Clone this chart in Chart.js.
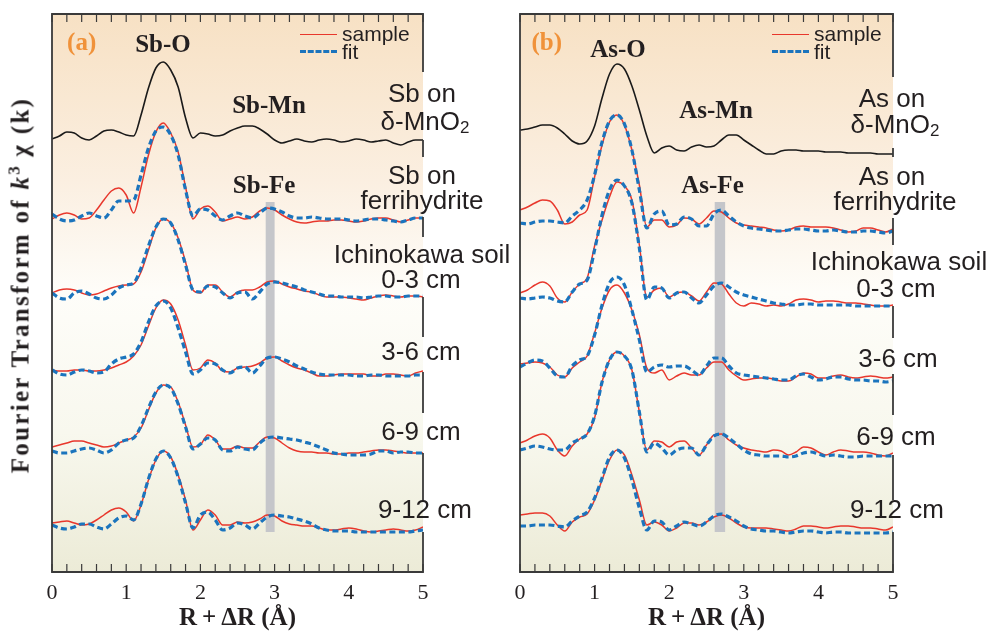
<!DOCTYPE html>
<html><head><meta charset="utf-8">
<script src="https://cdn.jsdelivr.net/npm/chart.js@4.4.0/dist/chart.umd.min.js"></script>
<style>
html,body{margin:0;padding:0;background:#fff;}
#wrap{position:relative;width:991px;height:633px;overflow:hidden;}
canvas{position:absolute;left:0;top:0;}
.t{position:absolute;white-space:nowrap;line-height:1;color:#231f20;}
.sans{font-family:"Liberation Sans",Arial,sans-serif;font-size:26px;}
.leg{font-family:"Liberation Sans",Arial,sans-serif;font-size:21px;}
.bond{font-family:"Liberation Serif","Times New Roman",serif;font-weight:bold;font-size:25px;}
.pl{font-family:"Liberation Serif","Times New Roman",serif;font-weight:bold;font-size:25px;color:#f0923a;}
sub,sup{line-height:0;}
.ln{position:absolute;height:0;}
</style></head>
<body><div id="wrap">
<canvas id="ca" width="991" height="633"></canvas>
<canvas id="cb" width="991" height="633"></canvas>
<div id="ov"></div>
</div>
<script>
// R + ΔR (Å) grid shared by all spectra
const R = [0,0.1,0.2,0.3,0.4,0.5,0.6,0.7,0.8,0.9,1,1.1,1.2,1.3,1.4,1.5,1.6,1.7,1.8,1.9,2,2.1,2.2,2.3,2.4,2.5,2.6,2.7,2.8,2.9,3,3.1,3.2,3.3,3.4,3.5,3.6,3.7,3.8,3.9,4,4.1,4.2,4.3,4.4,4.5,4.6,4.7,4.8,4.9,5];
const xTicks = [0,1,2,3,4,5];

// (a) Sb — stacked |FT| (offset a.u.)
const sbMnO2      = [433,436,440,439,434,432,436,441,442,440,437,436,457,484,504,510,502,485,454,434,439,438,436,437,441,444,446,446,443,438,432,429,431,433,431,430,432,433,432,430,431,433,432,430,431,432,429,427,430,432,432];
const sbFhSample  = [353,357,359,357,353,354,362,372,381,384,377,359,385,417,440,449,439,420,385,353,363,366,360,351,353,355,353,355,361,364,362,357,353,350,349,350,351,351,352,352,351,350,351,353,354,354,352,350,352,354,354];
const sbFhFit     = [358,353,351,352,356,359,356,354,362,371,371,372,397,424,441,445,437,417,382,356,363,362,356,352,356,359,356,354,359,364,363,360,356,354,354,355,354,353,353,353,352,351,352,353,353,352,351,350,352,354,354];
const sb03Sample  = [279,282,283,282,279,277,278,281,284,286,287,288,300,322,344,353,349,334,310,282,279,287,287,280,275,280,282,282,285,290,291,288,285,283,281,280,277,275,275,275,274,273,272,274,276,277,276,275,276,276,275];
const sb03Fit     = [279,274,273,279,281,278,274,273,277,284,287,289,304,326,345,353,349,332,307,282,280,286,285,279,274,279,280,273,280,288,290,289,287,285,282,280,278,276,276,275,275,275,274,275,276,276,275,275,276,276,276];
const sb36Sample  = [202,201,201,202,202,201,201,202,204,207,210,216,227,246,264,272,268,252,227,202,204,212,209,201,200,204,205,206,209,214,215,211,207,204,202,199,196,196,197,198,198,198,198,196,196,198,198,197,196,199,201];
const sb36Fit     = [202,198,197,200,202,201,199,200,208,213,215,218,230,250,266,271,264,244,220,198,202,209,208,202,199,204,205,199,206,214,215,213,210,206,203,200,198,197,197,197,197,196,196,197,197,196,196,196,196,197,197];
const sb69Sample  = [125,127,129,131,131,129,127,125,126,129,132,135,144,162,179,187,185,170,147,125,127,137,132,123,123,126,124,124,130,135,134,129,124,121,120,120,119,119,118,118,119,119,120,121,122,122,121,120,119,119,119];
const sb69Fit     = [121,119,119,121,123,124,122,119,122,129,132,134,146,164,180,187,184,168,145,123,128,134,132,122,121,125,123,122,129,134,135,134,133,132,130,128,125,122,119,118,117,117,117,118,121,121,119,120,120,119,119];
const sb912Sample = [49,50,51,49,47,48,52,57,62,64,60,51,67,92,112,121,115,97,72,42,52,62,57,47,47,50,49,50,53,57,56,51,48,47,46,46,44,42,42,43,44,43,41,40,41,42,43,42,41,42,45];
const sb912Fit    = [47,44,43,45,48,48,45,43,48,54,56,52,68,93,113,121,114,95,69,44,57,60,52,42,44,49,47,43,49,55,57,56,55,53,51,48,44,42,41,41,41,40,40,40,40,40,40,40,40,41,42];

// (b) As
const asMnO2      = [442,443,445,447,447,444,438,431,428,431,446,474,498,508,503,486,462,436,419,424,426,422,421,425,427,425,426,432,437,437,432,427,422,418,418,421,422,422,421,421,421,420,420,420,419,419,419,419,418,418,418];
const asFhSample  = [362,365,369,372,371,362,348,350,357,362,395,427,450,457,447,422,387,345,352,352,345,347,354,353,348,354,361,360,354,349,347,346,345,344,342,341,342,345,346,345,345,345,344,342,340,341,344,344,342,340,343];
const asFhFit     = [349,348,350,351,351,350,349,356,362,372,397,430,451,457,448,422,382,344,358,361,347,348,355,353,346,346,358,362,356,350,346,344,343,342,341,341,342,343,343,342,341,341,342,341,340,340,341,341,340,339,341];
const as03Sample  = [279,282,287,290,286,274,270,280,288,294,326,352,375,390,386,372,327,275,282,284,275,279,280,276,271,280,289,288,278,269,266,269,268,266,267,266,268,272,273,272,270,271,271,270,269,269,268,267,266,266,267];
const as03Fit     = [274,273,274,275,274,271,270,280,288,292,322,357,382,392,386,369,324,272,285,284,274,279,280,274,269,277,286,289,285,280,277,275,273,271,269,268,267,267,268,268,267,267,267,267,267,266,266,266,266,266,266];
const as36Sample  = [208,209,210,209,205,197,195,204,210,216,239,264,282,287,279,262,237,204,199,202,192,196,199,197,197,204,210,210,202,196,192,193,194,194,193,191,191,195,199,198,194,194,196,197,195,194,195,196,195,194,195];
const as36Fit     = [205,209,212,211,204,196,195,206,212,216,237,267,289,295,287,262,232,200,205,207,205,206,206,202,197,206,214,214,206,199,197,196,195,194,193,192,192,196,198,195,192,193,195,195,193,192,192,191,191,190,191];
const as69Sample  = [129,132,136,138,134,122,116,126,133,138,154,190,212,220,216,202,160,122,131,130,125,130,131,124,117,127,137,138,132,127,124,122,121,120,122,121,117,120,125,124,120,117,120,122,121,120,120,119,117,116,119];
const as69Fit     = [122,124,126,125,123,122,122,129,133,138,156,190,212,220,216,202,160,120,129,124,117,122,124,124,117,127,136,138,134,128,122,118,117,116,116,116,115,116,119,120,118,116,117,116,115,115,116,116,116,116,116];
const as912Sample = [57,58,59,59,56,47,41,50,55,58,72,92,112,122,117,97,72,47,50,47,41,44,49,49,47,50,55,57,54,49,45,44,44,44,43,42,41,43,46,46,45,44,45,46,46,45,44,44,43,42,45];
const as912Fit    = [46,46,47,47,47,46,45,51,56,60,74,94,115,122,114,92,64,42,51,50,42,46,50,48,46,50,56,58,55,51,46,43,42,41,41,40,39,40,41,41,40,39,40,40,39,39,39,39,39,39,40];

// shaded M-Fe distance bands (R range) and their vertical extent (a.u.)
const bandSb = [2.88, 3.0];
const bandAs = [2.61, 2.75];
const bandSpan = [40, 370];

const RED = '#e8372c', BLUE = '#1b74bd', BLACK = '#1a1a1a';

function ds(vals, kind){
  const base = {data: vals.map((v,i)=>({x:R[i], y:v})), pointRadius:0, fill:false,
    cubicInterpolationMode:'monotone'};
  if(kind==='ref') return Object.assign(base,{borderColor:BLACK,borderWidth:1.6,order:1});
  if(kind==='sample') return Object.assign(base,{borderColor:RED,borderWidth:1.5,order:1});
  return Object.assign(base,{borderColor:BLUE,borderWidth:3.2,borderDash:[6,3.5],order:0});
}

const framePlugin = {
  id:'frame',
  beforeDraw(chart){
    const {ctx, chartArea:a} = chart;
    const g = ctx.createLinearGradient(0,a.top,0,a.bottom);
    g.addColorStop(0,'#f7e1c4'); g.addColorStop(0.3,'#fbefe1'); g.addColorStop(0.5,'#fefdf9');
    g.addColorStop(0.75,'#f8f8ee'); g.addColorStop(1,'#ecebd7');
    ctx.save(); ctx.fillStyle=g; ctx.fillRect(a.left,a.top,a.right-a.left,a.bottom-a.top); ctx.restore();
  },
  beforeDatasetsDraw(chart,args,o){
    const {ctx, scales:{x,y}} = chart;
    const x0=x.getPixelForValue(o.band[0]), x1=x.getPixelForValue(o.band[1]);
    const y0=y.getPixelForValue(o.span[1]), y1=y.getPixelForValue(o.span[0]);
    ctx.save(); ctx.fillStyle='#c5c6ca'; ctx.fillRect(x0,y0,x1-x0,y1-y0); ctx.restore();
  },
  afterDatasetsDraw(chart,args,o){
    const {ctx, chartArea:a, scales:{x}} = chart;
    ctx.save(); ctx.strokeStyle='#3a3a3a'; ctx.lineWidth=1.8; ctx.lineCap='butt';
    ctx.beginPath();
    ctx.moveTo(a.left,a.top); ctx.lineTo(a.left,a.bottom);
    ctx.moveTo(a.left-0.9,a.top); ctx.lineTo(a.right+0.9,a.top);
    ctx.moveTo(a.left-0.9,a.bottom); ctx.lineTo(a.right+0.9,a.bottom);
    // right frame, interrupted behind the sample labels
    let yy=a.top;
    for(const [g0,g1] of o.gaps){ ctx.moveTo(a.right,yy); ctx.lineTo(a.right,g0); yy=g1; }
    ctx.moveTo(a.right,yy); ctx.lineTo(a.right,a.bottom);
    ctx.stroke();
    ctx.lineWidth=1.2; ctx.beginPath();
    for(const t of x.ticks){
      const px=x.getPixelForValue(t.value);
      ctx.moveTo(px,a.bottom); ctx.lineTo(px,a.bottom-8);
      ctx.moveTo(px,a.top); ctx.lineTo(px,a.top+8);
    }
    ctx.stroke(); ctx.restore();
  }
};

function makeChart(id, padL, padR, sets, band, gaps){
  return new Chart(document.getElementById(id), {
    type:'line',
    data:{datasets:sets},
    options:{
      responsive:false, animation:false, devicePixelRatio:1,
      layout:{padding:{left:padL,right:padR,top:14,bottom:0}},
      plugins:{legend:{display:false},tooltip:{enabled:false},frame:{band:band,span:bandSpan,gaps:gaps}},
      scales:{
        x:{type:'linear',min:0,max:5,position:'bottom',
          grid:{display:false,drawTicks:false},border:{display:false},
          ticks:{stepSize:0.2,autoSkip:false,maxRotation:0,padding:8,color:'#231f20',
            font:{family:'"Liberation Serif","Times New Roman",serif',size:22},
            callback:(v)=>{const r=Math.round(v);return (Math.abs(v-r)<1e-6 && xTicks.includes(r))?String(r):'';}},
          title:{display:true,text:'R\u2009+\u2009\u0394R (\u00c5)',color:'#231f20',
            font:{family:'"Liberation Serif","Times New Roman",serif',size:25,weight:'bold'},
            padding:{top:0,bottom:-1}},
          afterFit:(s)=>{s.height=61;}
        },
        y:{display:false,min:0,max:558}
      }
    },
    plugins:[framePlugin]
  });
}

makeChart('ca',52,568,[
  ds(sbMnO2,'ref'),
  ds(sbFhSample,'sample'),ds(sbFhFit,'fit'),
  ds(sb03Sample,'sample'),ds(sb03Fit,'fit'),
  ds(sb36Sample,'sample'),ds(sb36Fit,'fit'),
  ds(sb69Sample,'sample'),ds(sb69Fit,'fit'),
  ds(sb912Sample,'sample'),ds(sb912Fit,'fit')
], bandSb, [[72,140],[157,217],[237,297],[337,372],[413,453],[502,532]]);

makeChart('cb',520,98,[
  ds(asMnO2,'ref'),
  ds(asFhSample,'sample'),ds(asFhFit,'fit'),
  ds(as03Sample,'sample'),ds(as03Fit,'fit'),
  ds(as36Sample,'sample'),ds(as36Fit,'fit'),
  ds(as69Sample,'sample'),ds(as69Fit,'fit'),
  ds(as912Sample,'sample'),ds(as912Fit,'fit')
], bandAs, [[77,148],[157,218],[245,306],[338,374],[415,455],[500,532]]);

// ---- text overlays (real text) ----
const ov = document.getElementById('ov');
function txt(html, cls, cx, baseline, center){
  const d=document.createElement('div');
  d.className='t '+cls; d.innerHTML=html;
  const fs = cls==='leg'?21:(cls==='sans'?26:25);
  const k = (cls==='sans'||cls==='leg')?0.8465:0.8375;
  d.style.top=(baseline-k*fs)+'px';
  d.style.left=cx+'px';
  if(center!==false) d.style.transform='translateX(-50%)';
  ov.appendChild(d);
}
const MNO2='\u03b4-MnO<sub style="font-size:17px;vertical-align:-3px">2</sub>';
// panel (a)
txt('Sb on','sans',422,102); txt(MNO2,'sans',425,130);
txt('Sb on','sans',422,184); txt('ferrihydrite','sans',422,209);
txt('Ichinokawa soil','sans',422,262.7); txt('0-3 cm','sans',421,288.3);
txt('3-6 cm','sans',421,360); txt('6-9 cm','sans',421,440); txt('9-12 cm','sans',425,518.3);
// panel (b)
txt('As on','sans',892,107); txt(MNO2,'sans',895,133);
txt('As on','sans',892,185); txt('ferrihydrite','sans',895,210);
txt('Ichinokawa soil','sans',899,270); txt('0-3 cm','sans',896,296.7);
txt('3-6 cm','sans',898,366.7); txt('6-9 cm','sans',896,445); txt('9-12 cm','sans',897,518.3);
// bond labels
txt('Sb-O','bond',163,51.7); txt('Sb-Mn','bond',269,113.3); txt('Sb-Fe','bond',264,193.3);
txt('As-O','bond',618,56.7); txt('As-Mn','bond',716,118.3); txt('As-Fe','bond',712.5,193.3);
// panel letters
txt('(a)','pl',81.7,50); txt('(b)','pl',546.7,50);
// legends
function legend(x0){
  const a=document.createElement('div'); a.className='ln';
  a.style.cssText+=`left:${x0}px;top:33.5px;width:37px;border-top:1.6px solid ${RED};`;
  ov.appendChild(a);
  const b=document.createElement('div'); b.className='ln';
  b.style.cssText+=`left:${x0}px;top:50px;width:37px;border-top:3.4px dashed ${BLUE};`;
  ov.appendChild(b);
  txt('sample','leg',x0+42,40.7,false); txt('fit','leg',x0+42,58.3,false);
}
legend(300); legend(772);
// y-axis title
const yt=document.createElement('div');
yt.className='t bond';
yt.style.letterSpacing='2.3px';
yt.innerHTML='Fourier Transform of <i>k</i><sup style="font-size:17px;vertical-align:9px">3</sup>&thinsp;&chi; (k)';
yt.style.left='20px'; yt.style.top='285px';
yt.style.transform='translate(-50%,-50%) rotate(-90deg)';
ov.appendChild(yt);
</script>
</body></html>
